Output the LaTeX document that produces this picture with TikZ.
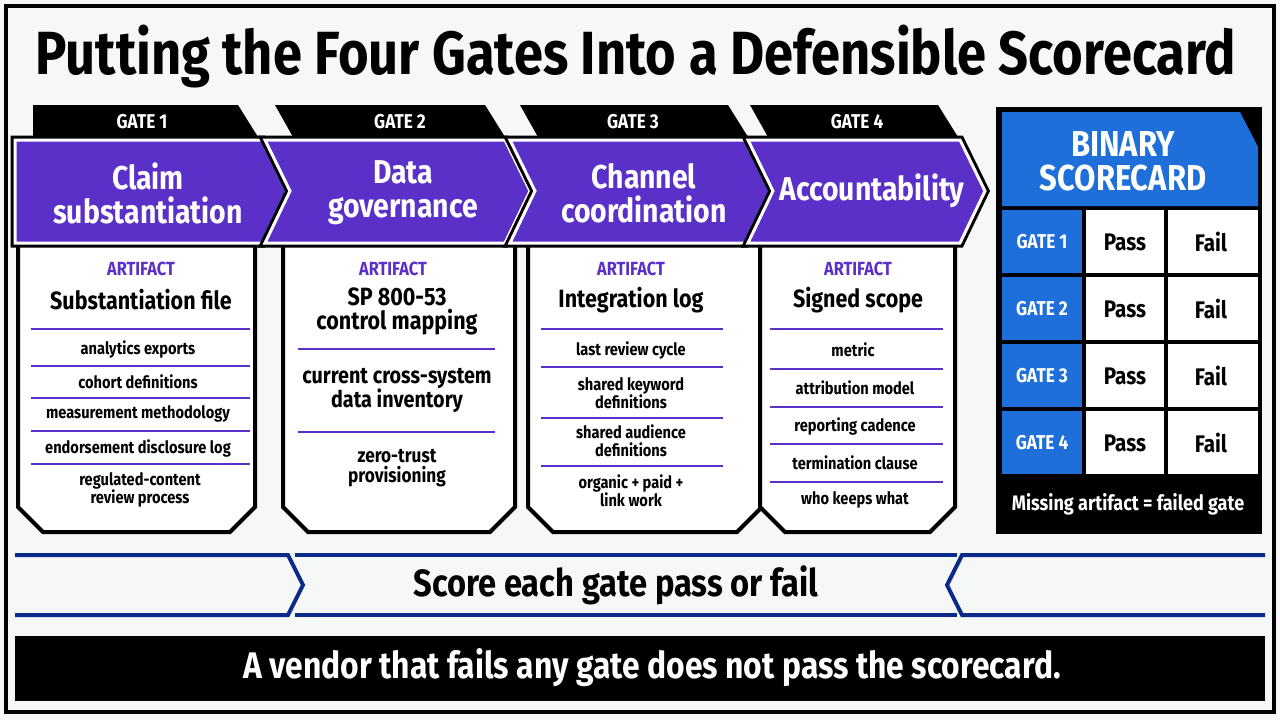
\documentclass[tikz,border=0pt]{standalone}
\usepackage{fontspec}
\setmainfont{Fira Sans}[FakeStretch=0.86]
\definecolor{pur}{HTML}{5A30C8}
\definecolor{bl}{HTML}{1E6FD9}
\definecolor{nv}{HTML}{0B2A8A}
\definecolor{bg}{HTML}{F6F7F7}
\begin{document}
\begin{tikzpicture}[x=1pt,y=-1pt,
  tab/.style={fill=black},
  tabt/.style={text=white,font=\bfseries\fontsize{20}{22}\selectfont},
  chevt/.style={text=white,font=\bfseries\fontsize{33}{34}\selectfont,align=center,inner sep=0pt},
  card/.style={draw=black,line width=4,fill=white,line join=miter},
  art/.style={text=pur,font=\bfseries\fontsize{19}{21}\selectfont},
  ctitle/.style={font=\bfseries\fontsize{25}{24}\selectfont,align=center,inner sep=0pt},
  item/.style={font=\bfseries\fontsize{17}{18}\selectfont,align=center,inner sep=0pt},
  sep/.style={draw=pur,line width=1.2},
  hsep/.style={draw=pur,line width=2.5},
  cell/.style={font=\bfseries\fontsize{24}{26}\selectfont},
]
\useasboundingbox (0,0) rectangle (1280,720);
\fill[bg] (0,0) rectangle (1280,720);
\draw[line width=4] (6,6) rectangle (1274,712);
\node (title) at (636,57) {\bfseries\fontsize{61}{64}\selectfont Putting the Four Gates Into a Defensible Scorecard};

% cards
\draw[card] (18,245)--(18,507)--(43,532)--(230,532)--(255,507)--(255,245);
\draw[card] (283,245)--(283,507)--(308,532)--(490,532)--(515,507)--(515,245);
\draw[card] (528,245)--(528,507)--(553,532)--(737,532)--(762,507)--(762,245);
\draw[card] (760,245)--(760,507)--(785,532)--(930,532)--(955,507)--(955,245);

% tabs
\fill[tab] (33,105)--(238,105)--(258,137)--(33,137)--cycle;
\fill[tab] (275,105)--(485,105)--(505,137)--(293,137)--cycle;
\fill[tab] (520,105)--(728,105)--(748,137)--(538,137)--cycle;
\fill[tab] (750,105)--(938,105)--(958,137)--(768,137)--cycle;
\node[tabt] (t1) at (142,122) {GATE 1};
\node[tabt] (t2) at (400,122) {GATE 2};
\node[tabt] (t3) at (633,122) {GATE 3};
\node[tabt] (t4) at (857,122) {GATE 4};

% chevrons
\foreach \p in {
 {(15,140)--(262,140)--(287,191)--(262,243)--(15,243)--cycle},
 {(265,140)--(505,140)--(530,191)--(505,243)--(265,243)--(290,191)--cycle},
 {(510,140)--(745,140)--(770,191)--(745,243)--(510,243)--(535,191)--cycle},
 {(748,140)--(960,140)--(985,191)--(960,243)--(748,243)--(773,191)--cycle}}{
 \draw[line width=9,line join=miter] \p;
 \filldraw[fill=pur,draw=white,line width=3,line join=miter] \p;
}
\node[chevt] (c1) at (148,193) {Claim\\substantiation};
\node[chevt] (c2) at (403,193) {Data\\governance};
\node[chevt] (c3) at (644,193) {Channel\\coordination};
\node[chevt] (c4) at (872,191) {Accountability};

% card 1
\node[art] (a1) at (141,269) {ARTIFACT};
\node[ctitle] (h1) at (141,300) {Substantiation file};
\draw[hsep] (31,329)--(250,329);
\node[item] (i11) at (138,349) {analytics exports};
\draw[sep] (31,366)--(250,366);
\node[item] (i12) at (138,382) {cohort definitions};
\draw[sep] (31,398)--(250,398);
\node[item] (i13) at (138,414) {measurement methodology};
\draw[sep] (31,431)--(250,431);
\node[item] (i14) at (138,448) {endorsement disclosure log};
\draw[sep] (31,464)--(250,464);
\node[item] (i15) at (140,490) {regulated-content\\review process};
% card 2
\node[art] (a2) at (393,269) {ARTIFACT};
\node[ctitle] (h2) at (397,311) {SP 800-53\\control mapping};
\draw[hsep] (298,349)--(495,349);
\node[ctitle,font=\bfseries\fontsize{23}{24}\selectfont] (i21) at (397,390) {current cross-system\\data inventory};
\draw[hsep] (298,432)--(495,432);
\node[item,font=\bfseries\fontsize{20}{20}\selectfont] (i22) at (397,468) {zero-trust\\provisioning};
% card 3
\node[art] (a3) at (631,269) {ARTIFACT};
\node[ctitle] (h3) at (631,300) {Integration log};
\draw[hsep] (541,329)--(723,329);
\node[item] (i31) at (631,350) {last review cycle};
\draw[sep] (541,367)--(723,367);
\node[item] (i32) at (631,393) {shared keyword\\definitions};
\draw[sep] (541,418)--(723,418);
\node[item] (i33) at (631,441) {shared audience\\definitions};
\draw[sep] (541,466)--(723,466);
\node[item] (i34) at (631,491) {organic + paid +\\link work};
% card 4
\node[art] (a4) at (858,269) {ARTIFACT};
\node[ctitle] (h4) at (858,300) {Signed scope};
\draw[hsep] (770,329)--(943,329);
\node[item] (i41) at (853,350) {metric};
\draw[sep] (770,369)--(943,369);
\node[item] (i42) at (855,388) {attribution model};
\draw[sep] (770,407)--(943,407);
\node[item] (i43) at (855,426) {reporting cadence};
\draw[sep] (770,444)--(943,444);
\node[item] (i44) at (855,463) {termination clause};
\draw[sep] (770,482)--(943,482);
\node[item] (i45) at (855,500) {who keeps what};

% scorecard
\fill[black] (996,107) rectangle (1262,534);
\fill[bl] (1002,112)--(1240,112)--(1258,147)--(1258,206)--(1002,206)--cycle;
\node[text=white,font=\bfseries\fontsize{36}{34}\selectfont,align=center,inner sep=0pt] (sc) at (1123,161) {BINARY\\SCORECARD};
\foreach \g/\y in {1/210,2/277,3/344,4/411}{
  \fill[bl] (1002,\y) rectangle (1082,\y+63);
  \fill[white] (1086,\y) rectangle (1164,\y+63);
  \fill[white] (1168,\y) rectangle (1258,\y+63);
  \node[text=white,font=\bfseries\fontsize{20}{22}\selectfont] (g\g) at (1042,\y+32) {GATE \g};
  \node[cell] (p\g) at (1125,\y+32) {Pass};
  \node[cell] (f\g) at (1211,\y+32) {Fail};
}
\node[text=white,font=\bfseries\fontsize{21}{22}\selectfont] (miss) at (1128,504) {Missing artifact = failed gate};

% banner
\draw[nv,line width=4] (15,555)--(288,555)--(303,585)--(288,615)--(15,615);
\draw[nv,line width=4] (295,555)--(957,555);
\draw[nv,line width=4] (295,615)--(957,615);
\draw[nv,line width=4] (1265,555)--(962,555)--(947,585)--(962,615)--(1265,615);
\node[font=\bfseries\fontsize{38}{40}\selectfont] (score) at (616,585) {Score each gate pass or fail};
\fill[black] (15,636) rectangle (1265,701);
\node[text=white,font=\bfseries\fontsize{37}{39}\selectfont] (vend) at (652,668) {A vendor that fails any gate does not pass the scorecard.};
\end{tikzpicture}
\end{document}
